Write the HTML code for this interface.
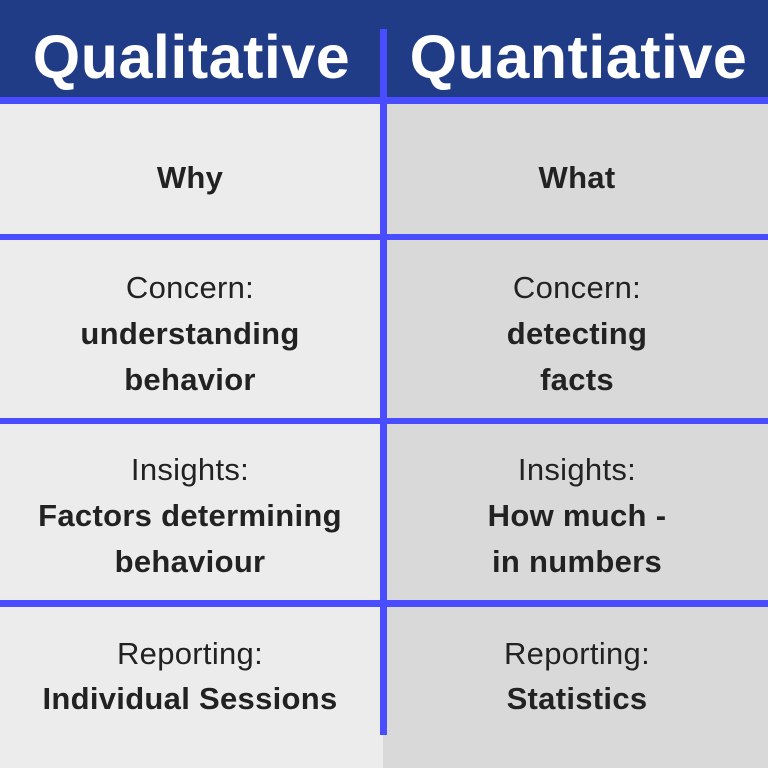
<!DOCTYPE html>
<html><head><meta charset="utf-8"><style>
body{margin:0;width:768px;height:768px;overflow:hidden;font-family:"Liberation Sans",sans-serif;}
#wrap{position:relative;width:768px;height:768px;background:#ececec;}
.abs{position:absolute;}
.t{position:absolute;width:380px;text-align:center;color:#222;font-size:31px;line-height:34px;letter-spacing:0.3px;transform:translateY(-50%);white-space:nowrap;}
.b{font-weight:bold;}
.h{position:absolute;width:383px;text-align:center;color:#fff;font-weight:bold;font-size:61px;line-height:66px;top:24px;letter-spacing:0.5px;}
</style></head><body>
<div id="wrap">
<div class="abs" style="left:383px;top:0;width:385px;height:768px;background:#d9d9d9"></div>
<div class="abs" style="left:0;top:0;width:768px;height:98px;background:#213c87"></div>
<div class="h" style="left:0">Qualitative</div>
<div class="h" style="left:387px">Quantiative</div>
<div class="abs" style="left:0;top:97px;width:768px;height:7px;background:#4a4cff"></div>
<div class="abs" style="left:0;top:234px;width:768px;height:6px;background:#4a4cff"></div>
<div class="abs" style="left:0;top:418px;width:768px;height:6px;background:#4a4cff"></div>
<div class="abs" style="left:0;top:600px;width:768px;height:7px;background:#4a4cff"></div>
<div class="abs" style="left:380px;top:29px;width:7px;height:706px;background:#4a4cff"></div>

<div class="t b" style="left:0;top:178px">Why</div>
<div class="t b" style="left:387px;top:178px">What</div>

<div class="t" style="left:0;top:288px">Concern:</div>
<div class="t b" style="left:0;top:334px">understanding</div>
<div class="t b" style="left:0;top:380px">behavior</div>
<div class="t" style="left:387px;top:288px">Concern:</div>
<div class="t b" style="left:387px;top:334px">detecting</div>
<div class="t b" style="left:387px;top:380px">facts</div>

<div class="t" style="left:0;top:470px">Insights:</div>
<div class="t b" style="left:0;top:516px">Factors determining</div>
<div class="t b" style="left:0;top:562px">behaviour</div>
<div class="t" style="left:387px;top:470px">Insights:</div>
<div class="t b" style="left:387px;top:516px">How much -</div>
<div class="t b" style="left:387px;top:562px">in numbers</div>

<div class="t" style="left:0;top:654px">Reporting:</div>
<div class="t b" style="left:0;top:699px">Individual Sessions</div>
<div class="t" style="left:387px;top:654px">Reporting:</div>
<div class="t b" style="left:387px;top:699px">Statistics</div>
</div>
</body></html>
